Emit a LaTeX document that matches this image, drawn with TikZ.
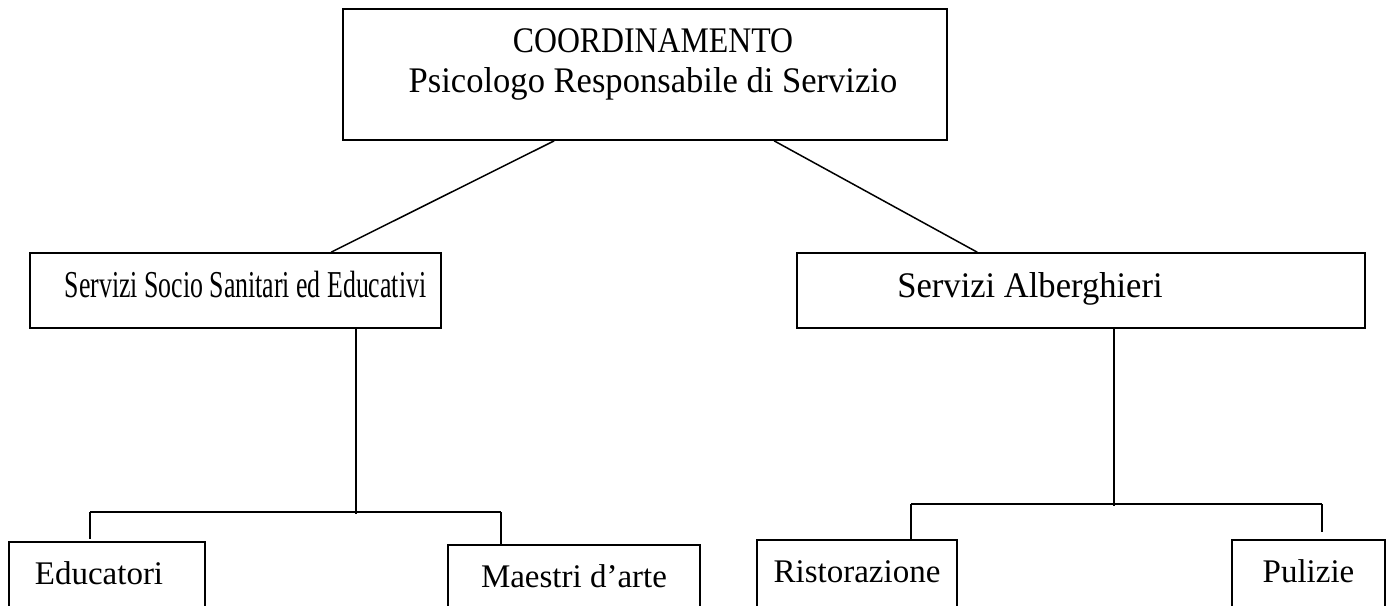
\documentclass[tikz,border=0pt]{standalone}
\usepackage{fontspec}
\setmainfont{Liberation Serif}
\newfontfamily\topfont[FakeStretch=0.96]{Liberation Serif}
\newfontfamily\midfont[FakeStretch=0.68]{Liberation Serif}
\newfontfamily\botfont{Liberation Serif}
\usetikzlibrary{calc}
\begin{document}
\begin{tikzpicture}[x=1pt,y=-1pt,
  box/.style={draw,line width=1.7pt,rectangle,inner xsep=0pt},
  midbox/.style={box,text height=24pt,text depth=11pt,inner ysep=20pt},
  botbox/.style={box,text height=22pt,text depth=40pt,inner ysep=20pt,
    font=\botfont\fontsize{33}{38}\selectfont},
  conn/.style={line width=1.5pt}]
\clip (0,0) rectangle (1392,605);
\fill[white] (0,0) rectangle (1392,605);
% top
\node[box,minimum width=604pt,minimum height=131pt] (top) at (645,74.5) {};
\node[align=center,font=\topfont\fontsize{36}{40}\selectfont] (toptext) at (653,64)
  {\scalebox{0.92}[1]{COORDINAMENTO}\\Psicologo Responsabile di Servizio};
% middle
\node[midbox,minimum width=411pt,font=\midfont\fontsize{38}{40}\selectfont] (midL) at (235.5,290.5)
  {\hspace*{20pt}Servizi Socio Sanitari ed Educativi};
\node[midbox,minimum width=568pt,font=\topfont\fontsize{36}{40}\selectfont] (midR) at (1081,290.5)
  {Servizi Alberghieri\hspace*{102pt}};
% bottom
\node[botbox,minimum width=196pt] (edu) at (107,593) {Educatori\hspace*{16pt}};
\node[botbox,minimum width=252pt] (mae) at (574,596) {Maestri d’arte};
\node[botbox,minimum width=200pt] (ris) at (857,591) {Ristorazione};
\node[botbox,minimum width=153pt] (pul) at (1308.5,591) {Pulizie};
% connectors top -> middle
\draw[conn] ($(top.south west)+(212,0)$) -- ($(midL.north west)+(302,0)$);
\draw[conn] ($(top.south west)+(432,0)$) -- ($(midR.north west)+(181,0)$);
% left tree
\coordinate (hubL) at ($(midL.south west)+(327,185)$);
\coordinate (lL) at ($(edu.north west)+(82,-29)$);
\coordinate (lR) at ($(mae.north west)+(54,-32)$);
\draw[conn] ($(midL.south west)+(327,0)$) -- (hubL);
\draw[conn] (lL) -- (lR);
\draw[conn] (lL) -- ($(edu.north west)+(82,-2)$);
\draw[conn] (lR) -- ($(mae.north west)+(54,0)$);
% right tree
\coordinate (hubR) at ($(midR.south west)+(318,177)$);
\coordinate (rL) at ($(ris.north west)+(155,-35)$);
\coordinate (rR) at ($(pul.north west)+(91,-35)$);
\draw[conn] ($(midR.south west)+(318,0)$) -- (hubR);
\draw[conn] (rL) -- (rR);
\draw[conn] (rL) -- ($(ris.north west)+(155,0)$);
\draw[conn] (rR) -- ($(pul.north west)+(91,-7)$);
\end{tikzpicture}
\end{document}
